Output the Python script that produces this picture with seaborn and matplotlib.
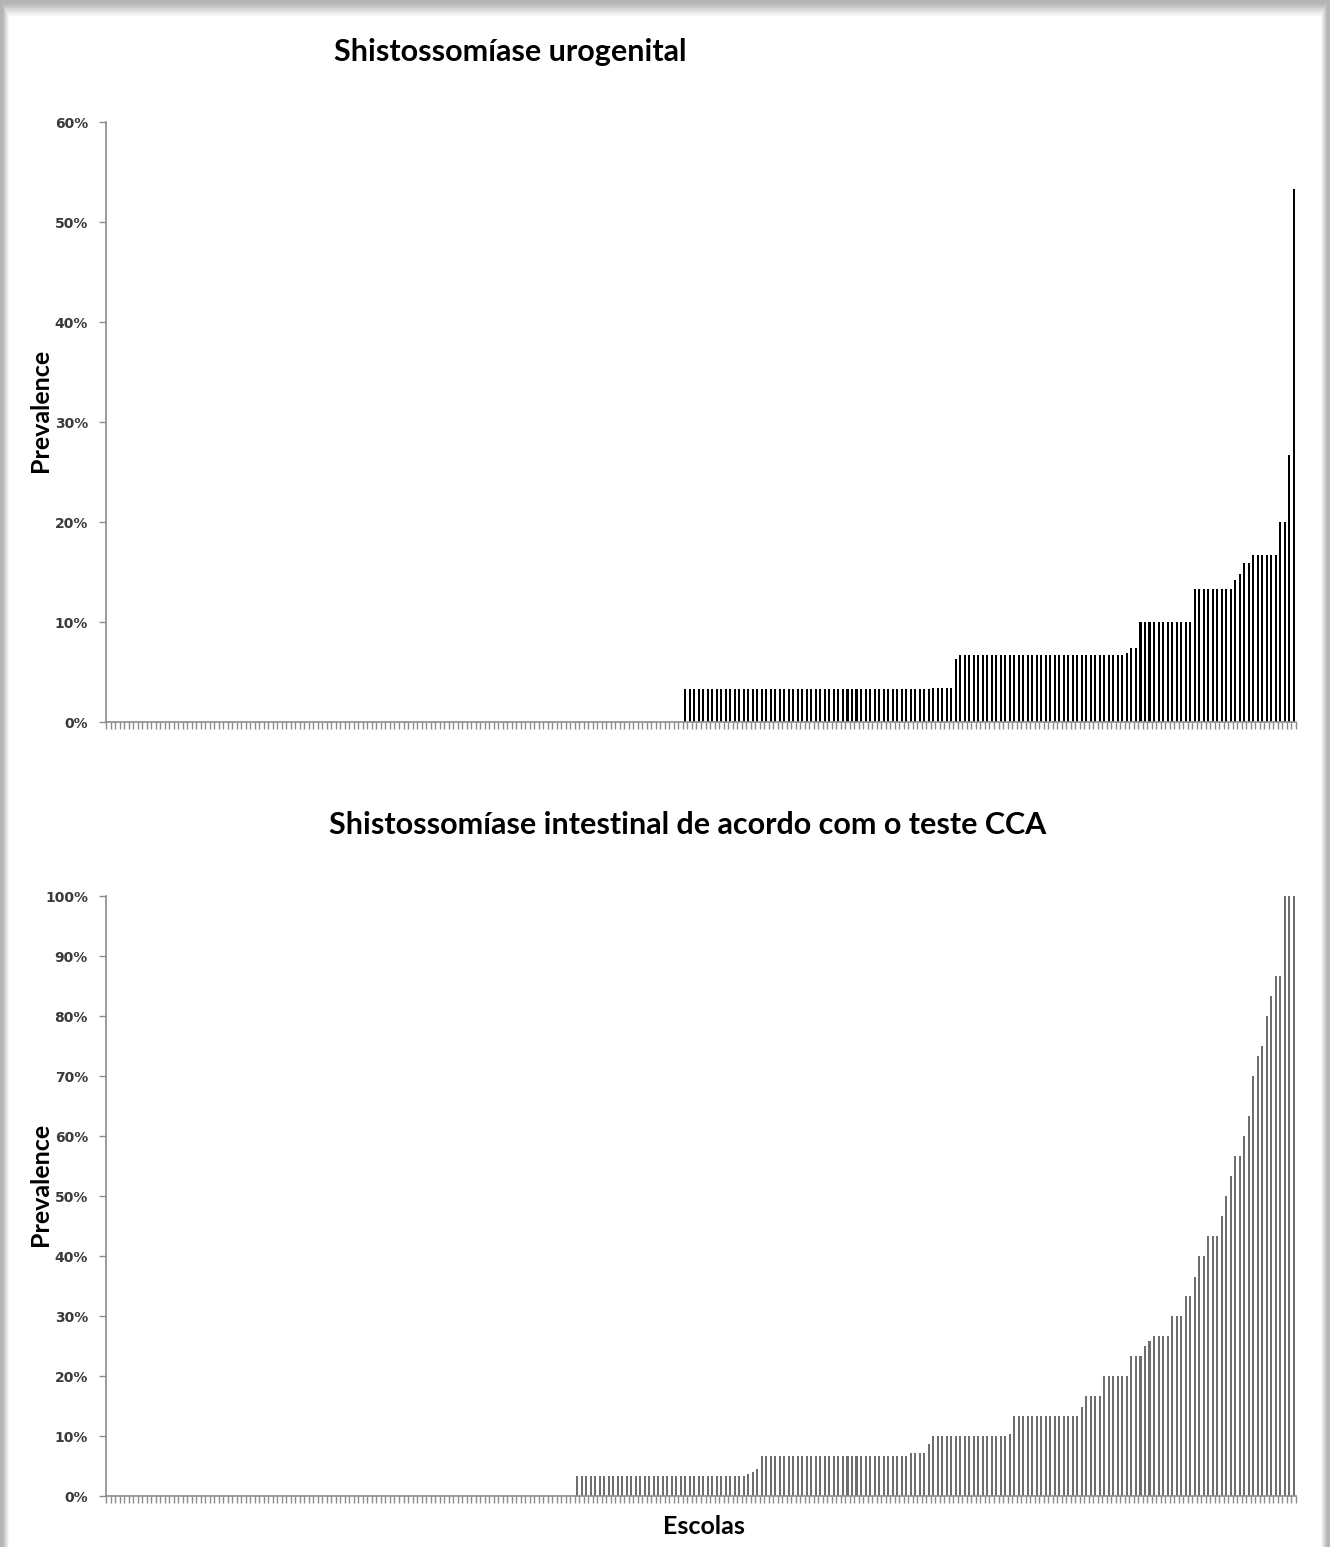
"""
Prevalência de shistossomíase por escola (urogenital e intestinal / teste CCA).
Saída: out.png
"""

import matplotlib.pyplot as plt
import matplotlib.patches as mpatches
import matplotlib.ticker as mticker
import numpy as np
import pandas as pd
import seaborn as sns

# ---------------------------------------------------------------------------
# Dados: níveis de prevalência (%) e nº de escolas por nível
# (escolas ordenadas por prevalência crescente)
# ---------------------------------------------------------------------------
uro_niveis = [0, 3.33, 3.45, 6.3, 6.67, 6.9, 7.4, 10.0, 13.33, 14.2, 14.8,
              15.9, 16.67, 20.0, 26.67, 53.33]
uro_escolas = [128, 55, 5, 1, 37, 1, 2, 12, 9, 1, 1, 2, 6, 2, 1, 1]

cca_niveis = [0, 3.33, 3.7, 4.0, 4.5, 6.67, 7.1, 8.7, 10.0, 10.3, 13.33, 14.8,
              16.67, 20.0, 23.33, 25.0, 25.9, 26.67, 30.0, 33.33, 36.5, 40.0,
              43.33, 46.67, 50.0, 53.33, 56.67, 60.0, 63.33, 70.0, 73.33, 75.0,
              80.0, 83.33, 86.67, 100.0]
cca_escolas = [104, 38, 1, 1, 1, 33, 4, 1, 17, 1, 15, 1, 4, 6, 3, 1, 1, 4, 3,
               2, 1, 2, 3, 1, 1, 1, 2, 1, 1, 1, 1, 1, 1, 1, 2, 3]

uro = pd.DataFrame({"prev": np.repeat(uro_niveis, uro_escolas) / 100})
uro["escola"] = np.arange(len(uro))
cca = pd.DataFrame({"prev": np.repeat(cca_niveis, cca_escolas) / 100})
cca["escola"] = np.arange(len(cca))

# ---------------------------------------------------------------------------
# Estilo
# ---------------------------------------------------------------------------
sns.set_theme(style="white")
plt.rcParams["font.family"] = ["DejaVu Sans"]
plt.rcParams["text.color"] = "black"
TITLE_FONT = ["Lato", "DejaVu Sans"]
AXIS_GREY = "#8c8c8c"

W, H = 1330, 1547
fig = plt.figure(figsize=(W / 100, H / 100), dpi=100)
fig.patch.set_facecolor("#b4b4b4")

# "folha" branca com sombra cinza nas bordas
for i, c in enumerate(["#bebebe", "#c8c8c8", "#d4d4d4", "#e0e0e0", "#ececec", "#f6f6f6"]):
    fig.patches.append(mpatches.Rectangle(
        ((3 + i) / W, 0), (W - 2 * (3 + i)) / W, (H - 4 - 2 * i) / H,
        transform=fig.transFigure, facecolor=c, edgecolor="none", zorder=-5))
fig.patches.append(mpatches.Rectangle(
    (9 / W, 0), (W - 18) / W, (H - 16) / H,
    transform=fig.transFigure, facecolor="white", edgecolor="none", zorder=-4))


def painel(df, rect, ymax, cor, titulo, titulo_xy):
    ax = fig.add_axes(rect)
    ax.set_facecolor("none")
    sns.barplot(data=df, x="escola", y="prev", color=cor, width=0.45,
                saturation=1, linewidth=0, ax=ax)
    n = len(df)
    ax.set_xlim(-0.5, n - 0.5)
    ax.set_ylim(0, ymax)
    ax.set_xticks(np.arange(n + 1) - 0.5)
    ax.set_xticklabels([])
    ax.set_yticks(np.arange(0, ymax + 0.001, 0.1))
    ax.yaxis.set_major_formatter(mticker.PercentFormatter(1.0, decimals=0))
    ax.tick_params(axis="x", length=5, width=1, color=AXIS_GREY, direction="out", bottom=True)
    ax.tick_params(axis="y", length=5, width=1, color=AXIS_GREY, direction="out",
                   left=True, pad=8, labelsize=10, labelcolor="#3a3a3a")
    for lab in ax.get_yticklabels():
        lab.set_fontweight("bold")
    for s in ["top", "right"]:
        ax.spines[s].set_visible(False)
    for s in ["left", "bottom"]:
        ax.spines[s].set_color(AXIS_GREY)
        ax.spines[s].set_linewidth(1.2)
    ax.set_xlabel("")
    ax.set_ylabel("Prevalence", fontsize=18, fontweight="bold", family=TITLE_FONT,
                  color="black")
    ax.yaxis.set_label_coords(-0.0454, 0.52)
    fig.text(titulo_xy[0], titulo_xy[1], titulo, ha="center", va="center",
             fontsize=22, fontweight="bold", family=TITLE_FONT)
    return ax


painel(uro, [106 / W, 1 - 722 / H, 1190 / W, 600 / H], 0.6, "#000000",
       "Shistossomíase urogenital", (510 / W, 1 - 52 / H))
painel(cca, [106 / W, 1 - 1496 / H, 1190 / W, 600 / H], 1.0, "#6e6e6e",
       "Shistossomíase intestinal de acordo com o teste CCA", (688 / W, 1 - 825 / H))

fig.text(704 / W, 1 - 1526 / H, "Escolas", ha="center", va="center",
         fontsize=18, fontweight="bold", family=TITLE_FONT)

fig.savefig("out.png", dpi=100, facecolor=fig.get_facecolor())
plt.close(fig)
